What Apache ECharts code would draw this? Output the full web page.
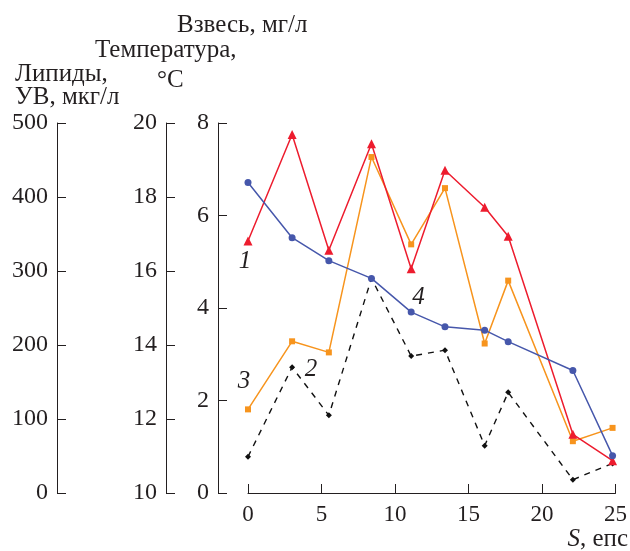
<!DOCTYPE html>
<html>
<head>
<meta charset="utf-8">
<script src="https://cdn.jsdelivr.net/npm/echarts@6/dist/echarts.min.js"></script>
<style>html,body{margin:0;padding:0;background:#fff}#c{width:630px;height:551px}</style>
</head>
<body>
<div id="c"></div>
<script>
// Salinity S (епс) of the stations
const salinity = [0, 3, 5.5, 8.4, 11.1, 13.4, 16.1, 17.7, 22.1, 24.8];
// 1 — suspended matter, mg/l
const suspension = [5.45, 7.75, 5.25, 7.55, 4.85, 6.98, 6.18, 5.55, 1.27, 0.7];
// 2 — hydrocarbons (УВ), µg/l
const hydrocarbons = [49, 170, 105, 290, 185, 193, 64, 136, 18, 40];
// 3 — lipids, µg/l
const lipids = [113, 205, 190, 454, 336, 412, 202, 287, 70, 88];
// 4 — temperature, °C
const temperature = [18.39, 16.9, 16.28, 15.8, 14.89, 14.49, 14.4, 14.09, 13.31, 11.01];

const xTicks = {min: 0, max: 25, interval: 5};
const suspTicks = {min: 0, max: 8, interval: 2};
const tempTicks = {min: 10, max: 20, interval: 2};
const lipTicks = {min: 0, max: 500, interval: 100};

const FONT = 'Liberation Serif';
const TXT = '#231f20';
const TITLE_FONT = '25px "Liberation Serif"';

function pairs(ys, labelIdx, labelText, offset) {
  return ys.map((v, i) => {
    const item = {value: [salinity[i], v]};
    if (i === labelIdx) {
      item.label = {show: true, formatter: labelText, position: 'inside', offset: offset,
        fontFamily: FONT, fontStyle: 'italic', fontSize: 25, color: TXT};
    }
    return item;
  });
}

const yAxisCommon = {
  type: 'value', position: 'left',
  axisLine: {show: true, onZero: false, lineStyle: {color: TXT, width: 1}},
  axisTick: {show: true, inside: true, length: 9, lineStyle: {color: TXT}},
  axisLabel: {margin: 9, fontFamily: FONT, fontSize: 24, color: TXT},
  splitLine: {show: false}
};

const chart = echarts.init(document.getElementById('c'));
chart.setOption({
  animation: false,
  backgroundColor: '#fff',
  grid: {left: 248, right: 14, top: 123, bottom: 58},
  xAxis: {
    type: 'value', min: xTicks.min, max: xTicks.max, interval: xTicks.interval,
    axisLine: {show: true, onZero: false, lineStyle: {color: TXT, width: 1}},
    axisTick: {show: true, inside: true, length: 9, lineStyle: {color: TXT}},
    axisLabel: {margin: 10, fontFamily: FONT, fontSize: 23, color: TXT},
    splitLine: {show: false}
  },
  yAxis: [
    Object.assign({}, yAxisCommon, {offset: 30, min: suspTicks.min, max: suspTicks.max, interval: suspTicks.interval}),
    Object.assign({}, yAxisCommon, {offset: 82, min: tempTicks.min, max: tempTicks.max, interval: tempTicks.interval}),
    Object.assign({}, yAxisCommon, {offset: 191, min: lipTicks.min, max: lipTicks.max, interval: lipTicks.interval})
  ],
  graphic: [
    {type: 'text', left: 177, top: 13, style: {text: 'Взвесь, мг/л', font: TITLE_FONT, fill: TXT}},
    {type: 'text', left: 95, top: 38, style: {text: 'Температура,', font: TITLE_FONT, fill: TXT}},
    {type: 'text', left: 157, top: 68, style: {text: '°C', font: TITLE_FONT, fill: TXT}},
    {type: 'text', left: 15, top: 62, style: {text: 'Липиды,', font: TITLE_FONT, fill: TXT}},
    {type: 'text', left: 15, top: 85, style: {text: 'УВ, мкг/л', font: TITLE_FONT, fill: TXT}},
    {type: 'text', right: 2, top: 527, style: {
      text: '{i|S}, епс', font: TITLE_FONT, fill: TXT,
      rich: {i: {fontFamily: FONT, fontStyle: 'italic', fontSize: 25, fill: TXT}}
    }}
  ],
  series: [
    {
      name: '2', type: 'line', yAxisIndex: 2,
      data: pairs(hydrocarbons, 1, '2', [19, 2]),
      symbol: 'diamond', symbolSize: 6,
      lineStyle: {color: '#111', width: 1.4, type: [6, 6]},
      itemStyle: {color: '#111'}
    },
    {
      name: '3', type: 'line', yAxisIndex: 2,
      data: pairs(lipids, 0, '3', [-4, -28]),
      symbol: 'rect', symbolSize: 6,
      lineStyle: {color: '#f7941d', width: 1.5},
      itemStyle: {color: '#f7941d'}
    },
    {
      name: '1', type: 'line', yAxisIndex: 0,
      data: pairs(suspension, 0, '1', [-3, 20]),
      symbol: 'triangle', symbolSize: 9,
      lineStyle: {color: '#ed1c2e', width: 1.5},
      itemStyle: {color: '#ed1c2e'}
    },
    {
      name: '4', type: 'line', yAxisIndex: 1,
      data: pairs(temperature, 3, '4', [47, 19]),
      symbol: 'circle', symbolSize: 7,
      lineStyle: {color: '#4657ab', width: 1.5},
      itemStyle: {color: '#4657ab'}
    }
  ]
});
</script>
</body>
</html>
